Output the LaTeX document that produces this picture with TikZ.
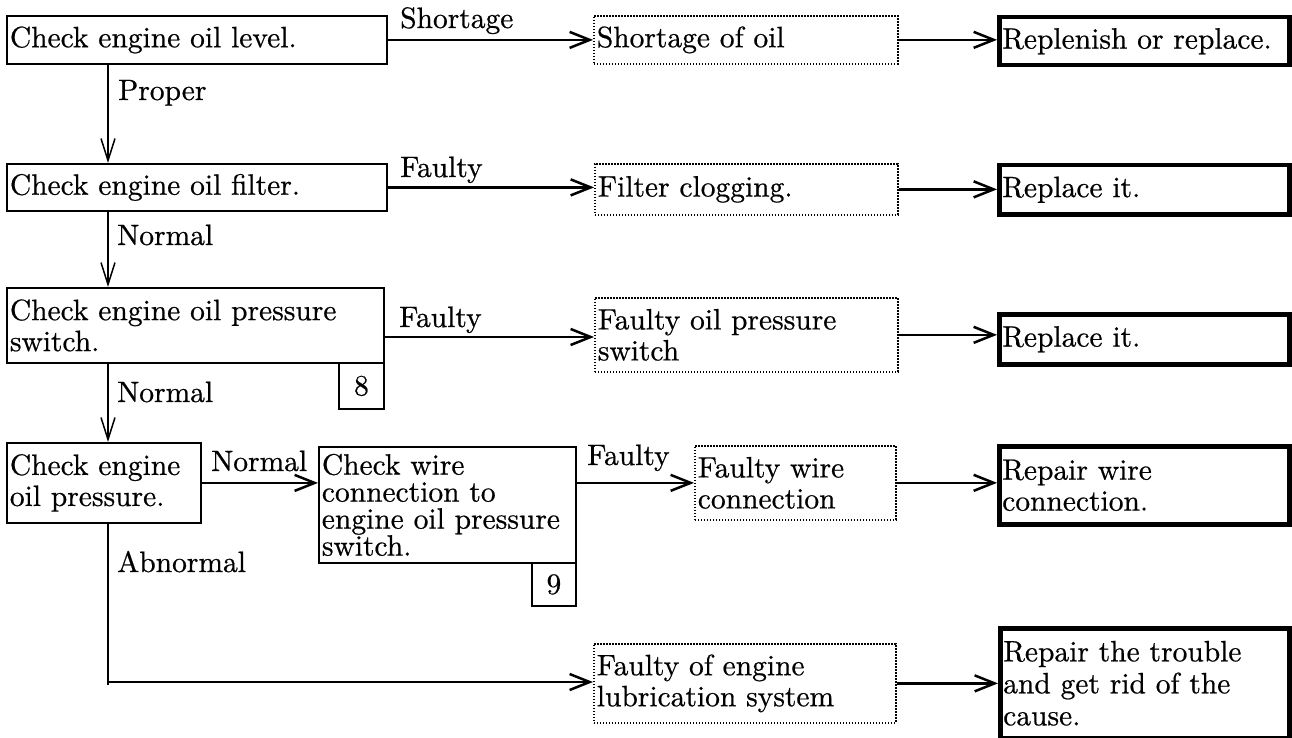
\documentclass[tikz,border=0pt]{standalone}
\usepackage{fontspec}
\setmainfont{lmroman10-regular.otf}[FakeBold=0.6]
\usetikzlibrary{arrows.meta}
\begin{document}
\begin{tikzpicture}[x=1pt,y=-1pt,
  every node/.style={font=\fontsize{29.5}{31}\selectfont, inner sep=0pt},
  bx/.style n args={2}{anchor=north west, align=left, inner xsep=3pt, inner ysep=0pt,
     text width=#1, minimum height=#2},
  plainbox/.style={draw, line width=1.8pt},
  causebox/.style={draw, line width=1.7pt, dash pattern=on 1.6pt off 1.4pt},
  fixbox/.style={draw, line width=4.5pt},
  numbox/.style={draw, line width=1.8pt, anchor=north west, align=center, inner sep=0pt},
  lbl/.style={anchor=base west},
  harrow/.style={line width=2.5pt, -{Straight Barb[length=20pt,width=16pt]}},
  varrow/.style={line width=1.5pt, -{Straight Barb[length=22pt,width=14pt]}},
  vline/.style={line width=1.5pt},
  hline/.style={line width=2.5pt}
]
\useasboundingbox (0,0) rectangle (1292,738);

% left column
\node[plainbox, bx={374pt}{48pt}] (A1) at (6,15) {Check engine oil level.};
\node[plainbox, bx={374pt}{47pt}] (A2) at (6,163) {Check engine oil filter.};
\node[plainbox, bx={371pt}{75pt}] (A3) at (6,287) {Check engine oil pressure\\switch.};
\node[numbox, minimum width=45pt, minimum height=46pt] (N8) at (338,362) {8};
\node[plainbox, bx={188pt}{80pt}] (A4) at (6,442) {Check engine\\oil pressure.};
\node[plainbox, bx={251pt}{116pt}, font=\fontsize{29.5}{27}\selectfont] (A5) at (318,446) {Check wire\\connection to\\engine oil pressure\\switch.};
\node[numbox, minimum width=44pt, minimum height=43pt] (N9) at (531,562) {9};

% causes
\node[causebox, bx={298pt}{48pt}] (B1) at (593,15) {Shortage of oil};
\node[causebox, bx={297pt}{51pt}] (B2) at (594,163) {Filter clogging.};
\node[causebox, bx={297pt}{74pt}] (B3) at (594,297) {Faulty oil pressure\\switch};
\node[causebox, bx={195pt}{74pt}] (B4) at (694,445) {Faulty wire\\connection};
\node[causebox, bx={296pt}{79pt}] (B5) at (593,643) {Faulty of engine\\lubrication system};

% remedies
\node[fixbox, bx={284pt}{48pt}] (C1) at (997,15) {Replenish or replace.};
\node[fixbox, bx={284pt}{49pt}] (C2) at (997,163) {Replace it.};
\node[fixbox, bx={284pt}{50pt}] (C3) at (997,312) {Replace it.};
\node[fixbox, bx={284pt}{78pt}] (C4) at (997,444) {Repair wire\\connection.};
\node[fixbox, bx={283pt}{110pt}, font=\fontsize{29.5}{32}\selectfont] (C5) at (998,626) {Repair the trouble\\and get rid of the\\cause.};

% helper coordinates
\coordinate (vx) at (108,0);
\coordinate (h3) at (0,337);
\coordinate (ab) at (108,682);
\coordinate (abend) at (108,685);

% vertical flow
\draw[varrow] (vx |- A1.south) -- (vx |- A2.north);
\draw[varrow] (vx |- A2.south) -- (vx |- A3.north);
\draw[varrow] (vx |- A3.south) -- (vx |- A4.north);
\draw[vline] (vx |- A4.south) -- (abend);
\draw[harrow] (ab) -- (ab -| B5.west);

% horizontal flow
\draw[harrow] (A1.east) -- (A1.east -| B1.west);
\draw[harrow] (B1.east) -- (B1.east -| C1.west);
\draw[harrow] (A2.east) -- (A2.east -| B2.west);
\draw[harrow] (B2.east) -- (B2.east -| C2.west);
\draw[harrow] (h3 -| A3.east) -- (h3 -| B3.west);
\draw[harrow] (B3.east) -- (B3.east -| C3.west);
\draw[harrow] (A4.east) -- (A4.east -| A5.west);
\draw[harrow] (B4.west -| A5.east) -- (B4.west);
\draw[harrow] (B4.east) -- (B4.east -| C4.west);
\draw[harrow] (B5.east) -- (B5.east -| C5.west);

% labels
\node[lbl] (lProper) at (118,100) {Proper};
\node[lbl] (lShort) at (400,28) {Shortage};
\node[lbl] (lF2) at (400,177) {Faulty};
\node[lbl] (lN2) at (117,245) {Normal};
\node[lbl] (lF3) at (399,327) {Faulty};
\node[lbl] (lN3) at (117,402) {Normal};
\node[lbl] (lN4) at (211,471) {Normal};
\node[lbl] (lF4) at (587,465) {Faulty};
\node[lbl] (lAb) at (117,572) {Abnormal};
\end{tikzpicture}
\end{document}
